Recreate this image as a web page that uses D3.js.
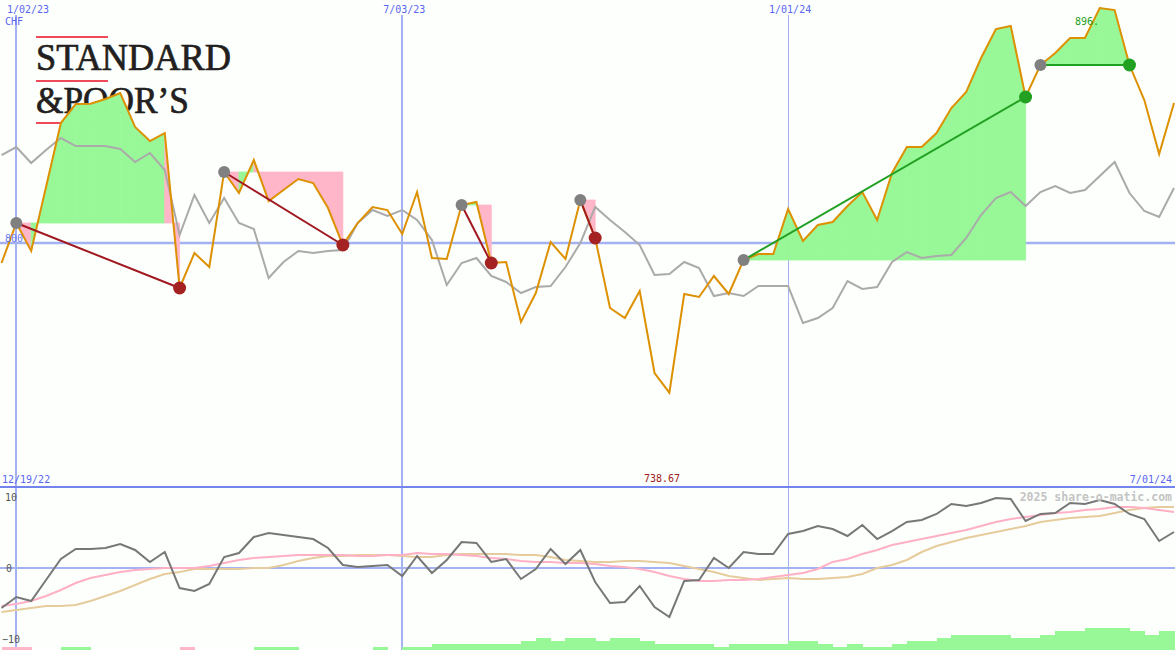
<!DOCTYPE html>
<html><head><meta charset="utf-8">
<script src="https://cdn.jsdelivr.net/npm/d3@7"></script>
<style>html,body{margin:0;padding:0;background:#fdfffd;overflow:hidden}svg{display:block}</style>
</head><body>
<script>
// ---------- data ----------
const startDate = "2022-12-26";
const endDate = "2024-07-01";
const price = [791.80,808.20,796.72,822.95,849.18,856.97,857.10,859.02,861.48,847.54,
841.80,845.08,781.56,795.90,790.16,829.10,820.49,834.02,817.21,821.72,
826.23,824.59,814.34,799.18,808.20,814.75,813.52,803.69,820.90,793.85,
793.44,815.57,816.80,791.80,792.21,767.62,779.51,800.41,793.44,817.62,
802.05,773.36,769.26,780.33,746.72,738.67,779.10,777.87,786.48,779.10,
793.03,795.49,795.49,813.93,800.82,807.38,808.61,815.16,820.90,809.43,
828.69,839.34,839.34,845.08,855.33,861.89,875.82,887.70,888.93,859.84,
872.95,877.87,884.02,884.02,896.31,895.49,872.95,858.61,836.48,857.38];
const bench = [836.07,839.34,832.79,838.11,843.03,839.75,839.75,839.75,838.52,833.20,
836.89,829.92,803.28,819.67,808.20,818.44,808.20,805.74,785.66,792.21,
796.72,795.90,796.72,797.13,808.20,813.52,811.07,813.52,809.43,801.23,
782.79,791.80,793.85,786.48,784.02,779.51,781.97,782.38,790.16,800.00,
814.75,809.43,804.51,799.18,786.89,787.30,792.21,789.75,778.28,779.51,
778.28,782.38,782.38,782.38,767.21,769.26,773.36,784.43,781.15,781.97,
792.21,796.31,793.85,794.67,795.08,802.05,811.48,818.44,820.90,815.16,
820.90,823.36,820.49,821.72,827.46,833.20,820.49,813.11,810.66,822.54];
const osc = [-5.63,-4.08,-4.65,-1.69,1.27,2.68,2.68,2.82,3.38,2.54,
0.85,2.25,-2.82,-3.24,-2.25,1.55,2.11,4.37,4.93,4.65,
4.37,4.08,2.82,0.42,0.14,0.28,0.42,-1.13,1.69,-0.70,
1.13,3.66,3.52,0.85,1.27,-1.55,-0.14,2.68,0.56,2.54,
-1.97,-4.93,-4.79,-2.54,-5.49,-6.90,-1.83,-1.69,1.41,0.00,
2.25,1.97,1.97,4.79,5.21,5.92,5.49,4.51,6.06,4.08,
5.21,6.48,6.76,7.61,9.01,8.73,9.15,9.86,9.72,6.62,
7.61,7.75,9.15,9.01,9.58,9.01,7.61,6.90,3.80,5.07];
const maFast = [-5.35,-5.07,-4.65,-3.94,-3.10,-2.11,-1.41,-0.99,-0.56,-0.28,
-0.14,0,0,0,0.28,0.70,1.13,1.41,1.55,1.69,
1.83,1.83,1.83,1.83,1.69,1.69,1.83,1.83,2.11,1.97,
1.97,1.83,1.69,1.41,1.27,0.99,0.85,0.85,0.70,0.70,
0.56,0.28,0.14,-0.14,-0.56,-1.13,-1.55,-1.83,-1.83,-1.69,
-1.69,-1.55,-1.27,-0.99,-0.70,-0.14,0.85,1.27,1.97,2.54,
3.24,3.66,4.08,4.51,4.93,5.35,5.92,6.48,6.90,7.18,
7.46,7.75,7.89,8.17,8.31,8.59,8.59,8.45,8.17,7.89];
const maSlow = [-6.20,-5.92,-5.63,-5.35,-5.35,-5.21,-4.65,-3.94,-3.24,-2.39,
-1.55,-0.85,-0.56,-0.14,-0.14,-0.14,-0.14,0,0,0.42,
0.99,1.41,1.69,1.69,1.83,1.83,1.83,1.69,1.55,1.55,
1.83,1.97,1.97,1.97,1.97,1.83,1.83,1.55,1.13,0.99,
0.85,0.85,0.99,0.99,0.85,0.70,0.28,-0.14,-0.56,-1.13,
-1.41,-1.69,-1.55,-1.41,-1.55,-1.55,-1.41,-1.27,-0.85,0,
0.42,1.13,2.25,3.10,3.66,4.23,4.65,5.07,5.49,5.92,
6.48,6.76,7.04,7.18,7.32,7.75,8.17,8.45,8.59,8.59];
const hist = [-1,-1,0,0,1,1,0,0,0,0,
0,0,-1,0,0,0,0,1,1,1,
0,0,0,0,0,1,0,1,1,2,
2,2,2,2,2,3,4,3,4,4,
3,4,4,3,2,2,2,2,1,2,
2,2,2,3,3,2,1,2,1,1,
2,3,3,4,5,5,5,5,4,4,
5,6,6,7,7,7,6,5,6,0];
const tradeEntry = [1,15,31,39,50,70];
const tradeExit  = [12,23,33,40,69,76];
const gridDates  = ["2023-01-02","2023-07-03","2024-01-01"];
const gridLabels = ["1/02/23","7/03/23","1/01/24"];
const gridWidths = [2,2,1];
const priceTicks = [800];
const oscTicks = [10,0,-10];
const currency = "CHF";
const minLabel = "738.67";
const maxLabel = "896.";
const panelStartLabel = "12/19/22";
const panelEndLabel = "7/01/24";
const credit = "2025 share-o-matic.com";

// ---------- layout ----------
const W = 1175, H = 650;
const mainTop = 0, mainBottom = 487;
const MONO = "'DejaVu Sans Mono', monospace";
const parse = d3.utcParse("%Y-%m-%d");
const dates = d3.utcDay.range(parse(startDate), d3.utcDay.offset(parse(endDate), 1), 7);

const x = d3.scaleUtc().domain([dates[0], dates[dates.length-1]]).range([1.5, 1174]);
const y = d3.scaleLinear().domain([700, 899.6]).range([mainBottom, mainTop]);
const yo = d3.scaleLinear().domain([-10, 10]).range([639, 497]);
const yh = d3.scaleLinear().domain([0, 7]).range([0, 21.7]);

const svg = d3.select("body").append("svg").attr("width", W).attr("height", H);
svg.append("rect").attr("width", W).attr("height", H).attr("fill", "#fdfffd");

// ---------- logo ----------
const logo = svg.append("g");
[37, 81, 123].forEach(ly => logo.append("line").attr("x1", 36).attr("x2", 108).attr("y1", ly).attr("y2", ly)
  .attr("stroke", "#ee4a5a").attr("stroke-width", 2));
logo.append("text").attr("x", 36).attr("y", 70).attr("font-family", "'Liberation Serif', serif")
  .attr("font-size", 37).attr("fill", "#231f20").attr("stroke", "#231f20").attr("stroke-width", 0.7)
  .attr("textLength", 195).attr("lengthAdjust", "spacingAndGlyphs")
  .text("STANDARD");
logo.append("text").attr("x", 36).attr("y", 113).attr("font-family", "'Liberation Serif', serif")
  .attr("font-size", 37).attr("fill", "#231f20").attr("stroke", "#231f20").attr("stroke-width", 0.7)
  .attr("textLength", 153).attr("lengthAdjust", "spacingAndGlyphs")
  .text("&POOR\u2019S");

// ---------- grid ----------
const grid = svg.append("g");
gridDates.forEach((d, i) => {
  const gx = Math.round(x(parse(d))) + (gridWidths[i] === 1 ? 0.5 : 0);
  grid.append("line").attr("x1", gx).attr("x2", gx).attr("y1", 15).attr("y2", H)
    .attr("stroke", "#a4b2f4").attr("stroke-width", gridWidths[i]);
});
priceTicks.forEach(t => grid.append("line").attr("x1", 0).attr("x2", W).attr("y1", y(t)).attr("y2", y(t))
  .attr("stroke", "#a4b2f4").attr("stroke-width", 2.5));
grid.append("line").attr("x1", 0).attr("x2", W).attr("y1", yo(0)).attr("y2", yo(0))
  .attr("stroke", "#a4b2f4").attr("stroke-width", 2);
grid.append("line").attr("x1", 0).attr("x2", W).attr("y1", mainBottom).attr("y2", mainBottom)
  .attr("stroke", "#7484ee").attr("stroke-width", 2);

// ---------- trade fills ----------
const fills = svg.append("g");
tradeEntry.forEach((e, t) => {
  const level = price[e];
  for (let k = e; k < tradeExit[t]; k++) {
    const x0 = x(dates[k]), x1 = x(dates[k+1]);
    const pts = [[x0, y(level)], [x0, y(price[k])], [x1, y(price[k+1])], [x1, y(level)]];
    const col = price[k+1] >= level ? "#98f898" : "#ffb6c8";
    fills.append("path").attr("d", "M" + pts.join("L") + "Z")
      .attr("fill", col).attr("stroke", col).attr("stroke-width", 0.8);
  }
});

// ---------- histogram ----------
const bars = svg.append("g").attr("shape-rendering", "crispEdges");
hist.forEach((v, i) => {
  if (!v || i >= dates.length - 1) return;
  const x0 = x(dates[i]), x1 = x(dates[i+1]);
  const h = yh(Math.abs(v));
  bars.append("rect").attr("x", x0).attr("width", x1 - x0 + 0.5).attr("y", H - h).attr("height", h)
    .attr("fill", v > 0 ? "#98f898" : "#ffb6c8");
});

// ---------- lines ----------
const lineMain = arr => d3.line().x((d, i) => x(dates[i])).y(d => y(d))(arr);
const lineOsc = arr => d3.line().x((d, i) => x(dates[i])).y(d => yo(d))(arr);
svg.append("path").attr("d", lineMain(bench)).attr("fill", "none").attr("stroke", "#aaaaaa").attr("stroke-width", 2);
svg.append("path").attr("d", lineMain(price)).attr("fill", "none").attr("stroke", "#dd9000").attr("stroke-width", 2);

svg.append("path").attr("d", lineOsc(maSlow)).attr("fill", "none").attr("stroke", "#e6cc9c").attr("stroke-width", 2);
svg.append("path").attr("d", lineOsc(maFast)).attr("fill", "none").attr("stroke", "#ffb0c4").attr("stroke-width", 2);
svg.append("path").attr("d", lineOsc(osc)).attr("fill", "none").attr("stroke", "#777777").attr("stroke-width", 2);

// ---------- trades ----------
const tr = svg.append("g");
tradeEntry.forEach((e, t) => {
  const xo = tradeExit[t];
  const win = price[xo] >= price[e];
  tr.append("line").attr("x1", x(dates[e])).attr("y1", y(price[e])).attr("x2", x(dates[xo])).attr("y2", y(price[xo]))
    .attr("stroke", win ? "#22a022" : "#a01820").attr("stroke-width", 2);
});
tradeEntry.forEach((e, t) => {
  const xo = tradeExit[t];
  const win = price[xo] >= price[e];
  tr.append("circle").attr("cx", x(dates[e])).attr("cy", y(price[e])).attr("r", 6).attr("fill", "#808080");
  tr.append("circle").attr("cx", x(dates[xo])).attr("cy", y(price[xo])).attr("r", 6.5)
    .attr("fill", win ? "#22a022" : "#a52222");
});

// ---------- text ----------
const txt = svg.append("g").attr("font-family", MONO).attr("font-size", 10);
gridDates.forEach((d, i) => {
  const gx = x(parse(d));
  txt.append("text").attr("x", i === 0 ? 7 : gx + 2).attr("y", 13).attr("text-anchor", i === 0 ? "start" : "middle")
    .attr("fill", "#5a66f0").text(gridLabels[i]);
});
txt.append("text").attr("x", 5).attr("y", 25).attr("fill", "#5a66f0").text(currency);
priceTicks.forEach(t => txt.append("text").attr("x", 5).attr("y", y(t) - 1).attr("fill", "#6a78f0").text(t));
txt.append("text").attr("x", 1075).attr("y", 25).attr("fill", "#22a022").text(maxLabel);
txt.append("text").attr("x", 2).attr("y", 483).attr("fill", "#5a66f0").text(panelStartLabel);
txt.append("text").attr("x", 1172).attr("y", 483).attr("text-anchor", "end").attr("fill", "#5a66f0").text(panelEndLabel);
txt.append("text").attr("x", 662).attr("y", 482).attr("text-anchor", "middle").attr("fill", "#a02020").text(minLabel);
oscTicks.forEach(t => txt.append("text").attr("x", t === -10 ? 2 : (t === 0 ? 6 : 5)).attr("y", yo(t) + 4)
  .attr("fill", "#555555").text(t === -10 ? "\u221210" : t));
txt.append("text").attr("x", 1172).attr("y", 501).attr("text-anchor", "end").attr("font-weight", "bold")
  .attr("font-size", 11.5).attr("fill", "#c4c4c4").text(credit);
</script>
</body></html>
